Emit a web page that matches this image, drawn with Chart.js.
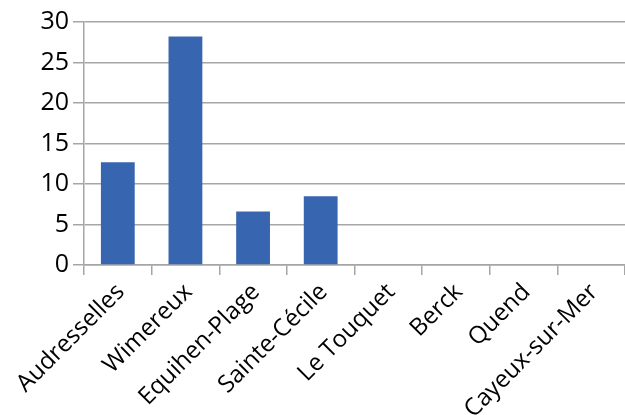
<!DOCTYPE html>
<html>
<head>
<meta charset="utf-8">
<script src="https://cdn.jsdelivr.net/npm/chart.js@4/dist/chart.umd.min.js"></script>
<style>
    html, body { margin: 0; padding: 0; background: #fff; }
    #wrap { width: 625px; height: 415px; }
</style>
</head>
<body>
<div id="wrap"><canvas id="chart"></canvas></div>
<script>
const towns = ['Audresselles', 'Wimereux', 'Equihen-Plage', 'Sainte-Cécile', 'Le Touquet', 'Berck', 'Quend', 'Cayeux-sur-Mer'];
const counts = [12.7, 28.2, 6.6, 8.5, 0, 0, 0, 0];
const yTicks = [0, 5, 10, 15, 20, 25, 30];

const ctx = document.getElementById('chart');

new Chart(ctx, {
    type: 'bar',
    data: {
        labels: towns,
        datasets: [{
            data: counts,
            backgroundColor: '#3865b0',
            barPercentage: 0.5,
            categoryPercentage: 1
        }]
    },
    options: {
        responsive: true,
        maintainAspectRatio: false,
        animation: false,
        layout: {
            padding: { top: 22, right: 0, left: 0, bottom: 0 }
        },
        plugins: {
            legend: { display: false },
            tooltip: { enabled: false }
        },
        scales: {
            y: {
                min: 0,
                max: 30,
                afterBuildTicks: (scale) => {
                    scale.ticks = yTicks.map(v => ({ value: v }));
                },
                afterFit: (scale) => { scale.width = 84; },
                grid: {
                    color: '#a6a6a6',
                    lineWidth: 1.5,
                    tickLength: 11
                },
                border: { color: '#a6a6a6', width: 1.5 },
                ticks: {
                    color: '#000',
                    padding: 4,
                    font: { family: 'Open Sans', size: 25 }
                }
            },
            x: {
                afterFit: (scale) => { scale.height = 150; },
                grid: {
                    color: '#a6a6a6',
                    lineWidth: 1.5,
                    drawOnChartArea: false,
                    tickLength: 10
                },
                border: { color: '#a6a6a6', width: 1.5 },
                ticks: {
                    color: '#000',
                    minRotation: 45,
                    maxRotation: 45,
                    autoSkip: false,
                    padding: 3,
                    labelOffset: 3,
                    font: { family: 'Open Sans', size: 24 }
                }
            }
        }
    }
});
</script>
</body>
</html>
